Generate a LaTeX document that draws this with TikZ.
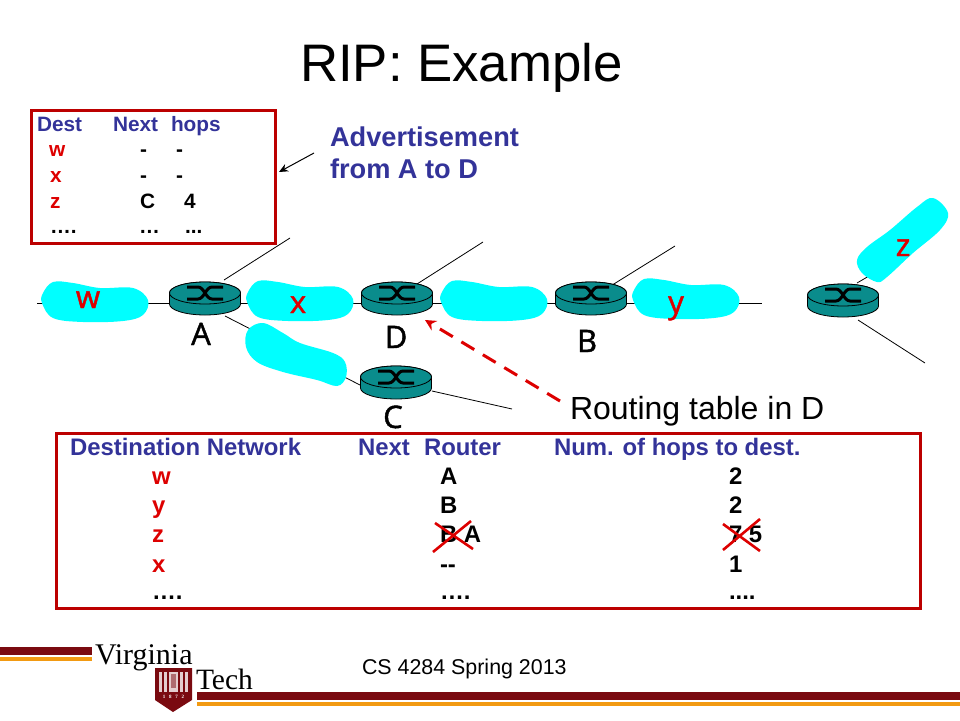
\documentclass[tikz,border=0pt]{standalone}
\usepackage{fontspec}
\usetikzlibrary{arrows.meta}
\setmainfont{Liberation Sans}
\newfontfamily\hand[FakeBold=1.5]{Open Sans}
\newfontfamily\vtserif{Liberation Serif}
\definecolor{rtblue}{HTML}{333399}
\definecolor{rtred}{HTML}{DD0000}
\definecolor{boxred}{HTML}{BC0000}
\definecolor{blobcyan}{HTML}{00FFFF}
\definecolor{routerteal}{HTML}{0A8C8C}
\definecolor{maroon}{HTML}{7A0A10}
\definecolor{vtorange}{HTML}{F29A12}
\newcommand{\netblob}{plot[smooth cycle,tension=0.6] coordinates {(43,293) (53,282) (73,283) (100,288) (133,288) (148,300) (143,315) (123,321) (83,322) (53,318) (42,303)}}
\tikzset{
  x=1pt,y=-1pt,
  txt/.style={anchor=base west,inner sep=0pt,outer sep=0pt},
  sm/.style={txt,font=\fontsize{20.8}{24}\selectfont\bfseries},
  smh/.style={sm,text=rtblue},
  smr/.style={sm,text=rtred},
  big/.style={txt,font=\fontsize{23.9}{28}\selectfont\bfseries},
  bigh/.style={big,text=rtblue},
  bigr/.style={big,text=rtred},
  netlabel/.style={anchor=base,inner sep=0pt,font=\hand\fontsize{31}{34}\selectfont,text=black},
  hostlabel/.style={anchor=base,inner sep=0pt,font=\hand\fontsize{31}{34}\selectfont,text=rtred},
  wire/.style={draw=black,line width=0.8pt},
  blob/.style={fill=blobcyan,draw=none},
  tablebox/.style={draw=boxred,line width=3pt,fill=none},
  crossout/.style={draw=rtred,line width=2.6pt},
  pics/router/.style={code={
    \fill[routerteal,draw=black,line width=0.8pt]
      (-35.5,0) -- (-35.5,11) arc[start angle=180,end angle=360,x radius=35.5,y radius=-11]
      -- (35.5,0) arc[start angle=0,end angle=180,x radius=35.5,y radius=-11] -- cycle;
    \draw[fill=routerteal,line width=0.8pt] (0,0) ellipse[x radius=35.5,y radius=11];
    \draw[line width=3pt] (-18,-6) -- (-7,-6) .. controls (-1,-6) and (1,6) .. (7,6) -- (18,6);
    \draw[line width=3pt] (-18,6) -- (-7,6) .. controls (-1,6) and (1,-6) .. (7,-6) -- (18,-6);
  }}
}
\begin{document}
\begin{tikzpicture}
\useasboundingbox (0,0) rectangle (960,720);
% router positions and free wire ends
\coordinate (A) at (205,293);
\coordinate (D) at (397,293);
\coordinate (B) at (591,293);
\coordinate (C) at (396,377);
\coordinate (E) at (843,295);
\coordinate (wl) at (37,303);
\coordinate (wr) at (762,303);
\coordinate (au) at (290,238);
\coordinate (du) at (483,242);
\coordinate (bu) at (675,246);
\coordinate (cr) at (512,409);
\coordinate (eu) at (905,255);
\coordinate (ed) at (925,363);
% wires
\draw[wire] (wl) -- (wr);
\draw[wire] (A) ++(19,-13) -- (au);
\draw[wire] (D) ++(20,-9) -- (du);
\draw[wire] (B) ++(18,-6) -- (bu);
\draw[wire] (A) ++(20,23) -- ([xshift=-36pt,yshift=-8pt]C);
\draw[wire] (C) ++(36,14) -- (cr);
\draw[wire] (E) ++(14,-12) -- (eu);
\draw[wire] (E) ++(15,25) -- (ed);
% networks
\fill[blob] \netblob;
\fill[blob,shift={(205,-1)}] \netblob;
\fill[blob,shift={(399,-1)}] \netblob;
\fill[blob,shift={(591,-3)}] \netblob;
\fill[blob] plot[smooth cycle,tension=0.6] coordinates {(263,323) (283,333) (300,343) (333,353) (345,362) (346,377) (337,386) (317,380) (283,372) (257,362) (246,347) (248,330)};
\fill[blob] plot[smooth cycle,tension=0.6] coordinates {(933,198) (948,213) (940,230) (913,253) (887,277) (877,282) (862,273) (857,260) (867,247) (890,230) (917,207)};
% routers
\pic at (A) {router};
\pic at (D) {router};
\pic at (B) {router};
\pic at (C) {router};
\pic at (E) {router};
% handwritten labels
\node[netlabel] (la) at (201,345) {A};
\node[netlabel] (ld) at (396,348) {D};
\node[netlabel] (lb) at (587,352) {B};
\node[netlabel] (lc) at (393,428) {C};
\node[hostlabel] (hw) at (88,308) {w};
\node[hostlabel] (hx) at (298,313) {x};
\node[hostlabel] (hy) at (676,313) {y};
\node[hostlabel] (hz) at (903,256) {z};
% title
\node[txt,font=\fontsize{52.8}{58}\selectfont] (title) at (300,81) {RIP: Example};
% advertisement box
\draw[tablebox] (31,110) rectangle (275,243);
\node[smh] (a1) at (37,131) {Dest};
\node[smh] (a2) at (113,131) {Next};
\node[smh] (a3) at (171,131) {hops};
\node[smr] (b1) at (49,156) {w};
\node[sm] (b2) at (140,156) {-};
\node[sm] (b3) at (176,156) {-};
\node[smr] (c1) at (50,182) {x};
\node[sm] (c2) at (140,182) {-};
\node[sm] (c3) at (176,182) {-};
\node[smr] (d1) at (50,208) {z};
\node[sm] (d2) at (140,208) {C};
\node[sm] (d3) at (184,208) {4};
\node[sm] (e1) at (50,233) {….};
\node[sm] (e2) at (139,233) {…};
\node[sm] (e3) at (185,233) {...};
% advertisement label and pointer
\node[txt,text=rtblue,font=\fontsize{27.2}{32}\selectfont\bfseries] (adv1) at (330,146) {Advertisement};
\node[txt,text=rtblue,font=\fontsize{27.2}{32}\selectfont\bfseries] (adv2) at (330,178) {from A to D};
\coordinate (advfrom) at (314,153);
\coordinate (advto) at (279,172);
\draw[black,line width=1pt,-{Stealth[length=9pt,width=8pt]}] (advfrom) -- (advto);
% routing table label and pointer
\node[txt,font=\fontsize{32}{36}\selectfont] (rt) at (570,419) {Routing table in D};
\coordinate (rtfrom) at (560,401);
\coordinate (rtto) at (425,320);
\draw[rtred,line width=3pt,dash pattern=on 15pt off 10pt,-{Stealth[length=11pt,width=11pt]}] (rtfrom) -- (rtto);
% routing table
\draw[tablebox] (56,433) rectangle (920,608);
\node[bigh] (h1) at (70,455) {Destination Network};
\node[bigh] (h2) at (358,455) {Next};
\node[bigh] (h3) at (424,455) {Router};
\node[bigh] (h4) at (554,455) {Num. of hops to dest.};
\node[bigr] (r1a) at (152,484) {w};
\node[big] (r1b) at (440,484) {A};
\node[big] (r1c) at (729,484) {2};
\node[bigr] (r2a) at (152,513) {y};
\node[big] (r2b) at (440,513) {B};
\node[big] (r2c) at (729,513) {2};
\node[bigr] (r3a) at (152,542) {z};
\node[big] (r3b) at (440,542) {B A};
\node[big] (r3c) at (729,542) {7 5};
\node[bigr] (r4a) at (152,572) {x};
\node[big] (r4b) at (440,572) {-{}-};
\node[big] (r4c) at (729,572) {1};
\node[big] (r5a) at (152,599) {….};
\node[big] (r5b) at (440,599) {….};
\node[big] (r5c) at (729,599) {....};
\draw[crossout] (433,552) -- (471,521);
\draw[crossout] (435,523) -- (473,549);
\draw[crossout] (723,550) -- (760,519);
\draw[crossout] (723,524) -- (760,551);
% footer
\fill[maroon] (0,647) rectangle (92,655);
\fill[vtorange] (0,657) rectangle (92,661);
\fill[maroon] (197,692) rectangle (960,700);
\fill[vtorange] (197,702) rectangle (960,706);
\node[txt,font=\vtserif\fontsize{30}{34}\selectfont,text=black] (vt1) at (95,664) {Virginia};
\node[txt,font=\vtserif\fontsize{29.5}{34}\selectfont,text=black] (vt2) at (196,689) {Tech};
\fill[maroon] (155,668) -- (192,668) -- (192,700) -- (173,712) -- (155,700) -- cycle;
\fill[white!80!maroon] (159,672) rectangle (188,692);
\foreach \cx in {163,168,179,184}{\fill[maroon] (\cx-1,672) rectangle (\cx+1,692);}
\fill[maroon!60!white] (171,674) rectangle (176,688);
\node[inner sep=0pt,text=white,font=\vtserif\bfseries\fontsize{5}{6}\selectfont] (vt3) at (173.5,697) {1\ \ \ 8\ \ \ 7\ \ \ 2};
\node[txt,font=\fontsize{21.4}{25}\selectfont] (foot) at (362,674) {CS 4284 Spring 2013};
\end{tikzpicture}
\end{document}
